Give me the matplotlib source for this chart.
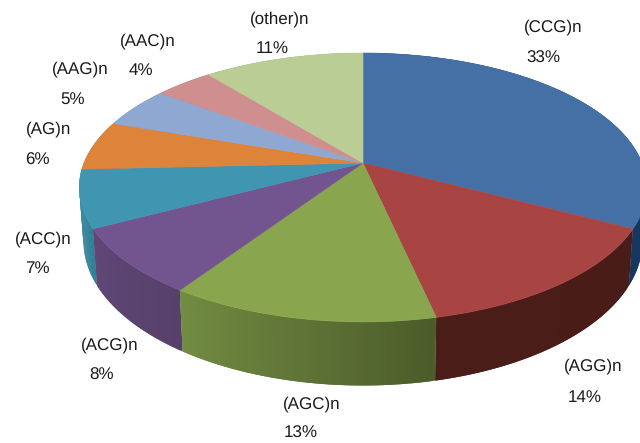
import numpy as np
import matplotlib
matplotlib.use("Agg")
import matplotlib.pyplot as plt
from matplotlib.patches import Polygon
from matplotlib.colors import to_rgb

plt.rcParams["font.family"] = ["Liberation Sans", "DejaVu Sans"]
plt.rcParams["text.hinting"] = "none"
plt.rcParams["text.hinting_factor"] = 1

categories = ["(CCG)n", "(AGG)n", "(AGC)n", "(ACG)n", "(ACC)n", "(AG)n", "(AAG)n", "(AAC)n", "(other)n"]
percentages = [33, 14, 13, 8, 7, 6, 5, 4, 11]
top_colors = ["#4570A6", "#A84543", "#89A64E", "#72548E", "#4096B0", "#DD833A", "#8EA8D1", "#CE8F8E", "#BACD95"]
# rim shading of each slice, clockwise from its first edge to its last
rim_colors = [("#1F4C80", "#16375F"), ("#481C18", "#4B1D19"), ("#4C5C2A", "#728C42"),
              ("#574069", "#5F4778"), ("#2F7F96", "#3A8CA6"), ("#C06F2C", "#C06F2C"),
              ("#7A93B8", "#7A93B8"), ("#B07A7A", "#B07A7A"), ("#A0B080", "#A0B080")]
label_xy = [(553, 27), (593, 366), (312, 404), (110, 345), (43, 239), (49, 129), (80, 69), (148, 41), (280, 19)]
value_xy = [(543, 58), (585, 398), (301, 433), (102, 375), (37, 269), (37, 160), (73, 99), (141, 71), (272, 49)]

# Perspective model of the disc: screen position from a point on the unit circle
CX, CY, RX, RY, PERSP, DEPTH, RIM_SHRINK = 363.0, 163.0, 279.0, 130.0, 0.182, 52.0, 0.985


def project(theta, drop=0.0, scale=1.0):
    """theta is measured clockwise from twelve o'clock, in radians."""
    u, v = np.sin(theta), np.cos(theta)
    w = 1.0 + PERSP * v
    return CX + scale * RX * u / w, CY - RY * v / w + drop / w


fig = plt.figure(figsize=(6.40, 4.43), dpi=100)
ax = fig.add_axes([0, 0, 1, 1])
ax.set_xlim(0, 640)
ax.set_ylim(443, 0)
ax.axis("off")

fractions = np.array(percentages, dtype=float) / sum(percentages)
edges = np.concatenate([[0.0], np.cumsum(fractions)]) * 2 * np.pi

# Rim first, back slices before front ones; each strip runs under the next so no seams show
mids = (edges[:-1] + edges[1:]) / 2
STEPS = 60
for i in np.argsort(-np.cos(mids)):
    t = np.linspace(edges[i], edges[i + 1], STEPS + 1)
    c0, c1 = np.array(to_rgb(rim_colors[i][0])), np.array(to_rgb(rim_colors[i][1]))
    for j in range(STEPS):
        a, b = t[j], t[min(j + 2, STEPS)]
        ts = np.linspace(a, b, 4)
        xt, yt = project(ts)
        xb, yb = project(ts[::-1], DEPTH, RIM_SHRINK)
        color = c0 + (c1 - c0) * j / (STEPS - 1)
        ax.add_patch(Polygon(np.c_[np.r_[xt, xb], np.r_[yt, yb]], closed=True,
                             facecolor=color, edgecolor="none", zorder=2))

# Top face of every slice
for i, color in enumerate(top_colors):
    t = np.linspace(edges[i], edges[i + 1], 120)
    x, y = project(t)
    ax.fill(np.r_[CX, x], np.r_[CY, y], facecolor=color, edgecolor=color, linewidth=0.4, zorder=3)

for name, pct, lxy, vxy in zip(categories, percentages, label_xy, value_xy):
    ax.text(*lxy, name, fontsize=12.5, color="#1a1a1a", ha="center", va="center", zorder=4)
    ax.text(*vxy, f"{pct}%", fontsize=12.5, color="#1a1a1a", ha="center", va="center", zorder=4)

fig.savefig("out.png", dpi=100)
